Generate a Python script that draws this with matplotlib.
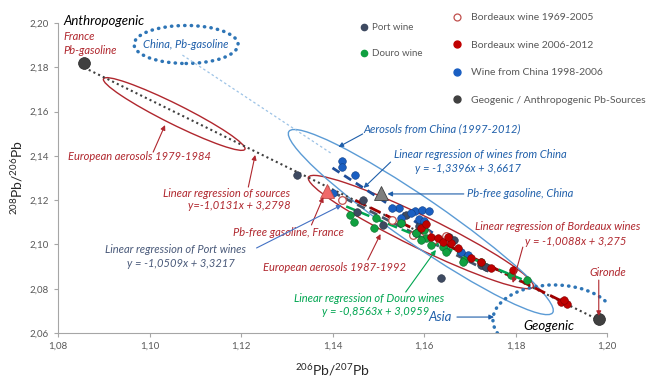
import matplotlib.pyplot as plt
import numpy as np
from matplotlib.patches import Ellipse
from matplotlib.transforms import ScaledTranslation
from matplotlib.ticker import FuncFormatter
from matplotlib.lines import Line2D

plt.rcParams['font.family'] = ['Lato', 'DejaVu Sans']
plt.rcParams['mathtext.fontset'] = 'custom'
plt.rcParams['mathtext.rm'] = 'Lato'
plt.rcParams['mathtext.it'] = 'Lato:italic'

# ---- data ----
port_x = [1.1323, 1.1466, 1.1453, 1.1510, 1.1560, 1.1588, 1.1582, 1.1599, 1.1654, 1.1665,
          1.1724, 1.1735, 1.1637]
port_y = [2.1314, 2.1201, 2.1146, 2.1088, 2.1133, 2.1083, 2.1052, 2.1101, 2.1034, 2.1020,
          2.0907, 2.0898, 2.0848]

douro_x = [1.1439, 1.1446, 1.1490, 1.1495, 1.1549, 1.1582, 1.1599, 1.1604, 1.1615, 1.1593,
           1.1641, 1.1647, 1.1687, 1.1685, 1.1724, 1.1790, 1.1825]
douro_y = [2.1133, 2.1101, 2.1074, 2.1119, 2.1097, 2.1052, 2.1065, 2.1029, 2.0997, 2.1020,
           2.0988, 2.0966, 2.0930, 2.0921, 2.0921, 2.0862, 2.0839]

bdx_old_x = [1.1531, 1.1549, 1.1577, 1.1604, 1.1619, 1.1647, 1.1420]
bdx_old_y = [2.1110, 2.1101, 2.1043, 2.1052, 2.1020, 2.1038, 2.1200]

bdx_new_x = [1.1615, 1.1630, 1.1641, 1.1658, 1.1652, 1.1674, 1.1702, 1.1724, 1.1746, 1.1794,
             1.1899, 1.1912, 1.1906, 1.1593, 1.1604]
bdx_new_y = [2.1034, 2.1029, 2.1011, 2.1006, 2.1034, 2.0984, 2.0939, 2.0921, 2.0894, 2.0885,
             2.0740, 2.0731, 2.0749, 2.1074, 2.1092]

china_x = [1.1420, 1.1420, 1.1450, 1.1402, 1.1549, 1.1545, 1.1580, 1.1595, 1.1610, 1.1588,
           1.1599, 1.1680, 1.1696, 1.1571, 1.1530]
china_y = [2.1377, 2.1350, 2.1313, 2.1232, 2.1119, 2.1164, 2.1150, 2.1155, 2.1150, 2.1115,
           2.1106, 2.0966, 2.0952, 2.1140, 2.1165]

src_x = [1.0857, 1.1982]
src_y = [2.1820, 2.0661]

gas_fr = (1.1387, 2.1241)
gas_cn = (1.1507, 2.1232)

# regressions: slope, intercept, x range
reg_src = (-1.0131, 3.2798, 1.0857, 1.1982)
reg_china = (-1.3396, 3.6617, 1.1400, 1.1660)
reg_port = (-1.0509, 3.3217, 1.1400, 1.1750)
reg_bdx = (-1.0088, 3.2750, 1.1450, 1.1900)
reg_douro = (-0.8563, 3.0959, 1.1430, 1.1830)
china_ext_x = [1.1072, 1.1396]
china_ext_y = [2.1855, 2.1413]

xticks = [1.08, 1.10, 1.12, 1.14, 1.16, 1.18, 1.20]
yticks = [2.06, 2.08, 2.10, 2.12, 2.14, 2.16, 2.18, 2.20]

RED = '#B0272E'
BLUE = '#1F5FAA'
SLATE = '#4A5A7A'
GREEN = '#00A550'

fig = plt.figure(figsize=(6.49, 3.78), dpi=100)
ax = fig.add_axes([58 / 649, 45 / 378, 549 / 649, 310 / 378])
ax.set_xlim(1.08, 1.20)
ax.set_ylim(2.06, 2.20)


def reg_line(r, **kw):
    xs = np.array([r[2], r[3]])
    ax.plot(xs, r[0] * xs + r[1], **kw)


def ring(cx, cy, w, h, ang, color, ls='-', lw=1.0):
    tr = fig.dpi_scale_trans + ScaledTranslation(cx, cy, ax.transData)
    e = Ellipse((0, 0), w / 100, h / 100, angle=ang, fill=False, ec=color,
                ls=ls, lw=lw, transform=tr, capstyle='round', zorder=2)
    ax.add_patch(e)


# ellipses
ring(1.1054, 2.1589, 158, 20, -26.5, RED, lw=1.0)
ring(1.1593, 2.1056, 250, 32, -26.0, RED, lw=1.0)
ring(1.1593, 2.1101, 320, 46, -34.5, '#5B9BD5', lw=1.0)
ring(1.1080, 2.1903, 104, 38, 0, '#2E75B6', ls=(0, (0.1, 1.8)), lw=2.5)
ring(1.1884, 2.0659, 122, 70, 0, '#2E75B6', ls=(0, (0.1, 1.8)), lw=2.5)

# regression lines
ax.plot(china_ext_x, china_ext_y, color='#9DC3E6', lw=0.9, ls=(0, (2, 2)), zorder=2)
reg_line(reg_src, color='#404040', lw=1.5, ls=(0, (1, 1.5)), zorder=3)
reg_line(reg_china, color='#1F4E99', lw=2.0, ls=(0, (3, 2)), zorder=3)
reg_line(reg_port, color='#44546A', lw=2.0, ls=(0, (3, 2)), zorder=3)
reg_line(reg_bdx, color='#A00000', lw=2.0, ls=(0, (4, 2)), zorder=3)
reg_line(reg_douro, color=GREEN, lw=1.8, ls=(0, (4, 2)), zorder=3)

# points
ms = 5.5
ax.plot(bdx_old_x, bdx_old_y, 'o', ms=ms, mfc='white', mec='#C0504D', mew=0.9, zorder=4)
ax.plot(port_x, port_y, 'o', ms=ms, color='#3E4A61', mec='#2A3344', mew=0.4, zorder=5)
ax.plot(china_x, china_y, 'o', ms=ms, color='#1A5FC2', mec='#0F3F85', mew=0.4, zorder=5)
ax.plot(douro_x, douro_y, 'o', ms=ms, color='#10A040', mec='#0A6A2A', mew=0.4, zorder=6)
ax.plot(bdx_new_x, bdx_new_y, 'o', ms=ms, color='#C00000', mec='#800000', mew=0.4, zorder=6)
ax.plot(src_x, src_y, 'o', ms=8.5, color='#404040', mec='#262626', mew=0.5, zorder=7)
ax.plot(*gas_fr, '^', ms=10, color='#F06A6A', mec='#C0504D', mew=0.6, zorder=7)
ax.plot(*gas_cn, '^', ms=10, color='#7F7F7F', mec='#404040', mew=0.6, zorder=7)

# texts
fs = 8
ax.text(1.0811, 2.2009, 'Anthropogenic', style='italic', fontsize=9.5, color='black', va='center')
ax.text(1.0813, 2.1941, 'France', style='italic', fontsize=fs, color=RED, va='center')
ax.text(1.0813, 2.1874, 'Pb-gasoline', style='italic', fontsize=fs, color=RED, va='center')
ax.text(1.1080, 2.1905, 'China, Pb-gasoline', style='italic', fontsize=fs, color=BLUE, va='center', ha='center')
ax.text(1.0822, 2.1395, 'European aerosols 1979-1984', style='italic', fontsize=fs, color=RED, va='center')
ax.text(1.1308, 2.1228, 'Linear regression of sources', style='italic', fontsize=fs, color=RED, va='center', ha='right')
ax.text(1.1308, 2.1178, 'y=-1,0131x + 3,2798', style='italic', fontsize=fs, color=RED, va='center', ha='right')
ax.text(1.1468, 2.1521, 'Aerosols from China (1997-2012)', style='italic', fontsize=fs, color=BLUE, va='center')
ax.text(1.1534, 2.1404, 'Linear regression of wines from China', style='italic', fontsize=fs, color=BLUE, va='center')
ax.text(1.1580, 2.1345, 'y = -1,3396x + 3,6617', style='italic', fontsize=fs, color=BLUE, va='center')
ax.text(1.1693, 2.1228, 'Pb-free gasoline, China', style='italic', fontsize=fs, color=BLUE, va='center')
ax.text(1.1711, 2.1083, 'Linear regression of Bordeaux wines', style='italic', fontsize=fs, color=RED, va='center')
ax.text(1.1820, 2.1015, 'y = -1,0088x + 3,275', style='italic', fontsize=fs, color=RED, va='center')
ax.text(1.1961, 2.0875, 'Gironde', style='italic', fontsize=fs, color=RED, va='center')
ax.text(1.1183, 2.1056, 'Pb-free gasoline, France', style='italic', fontsize=fs, color=RED, va='center')
ax.text(1.1249, 2.0898, 'European aerosols 1987-1992', style='italic', fontsize=fs, color=RED, va='center')
ax.text(1.0903, 2.0975, 'Linear regression of Port wines', style='italic', fontsize=fs, color=SLATE, va='center')
ax.text(1.0951, 2.0916, 'y = -1,0509x + 3,3217', style='italic', fontsize=fs, color=SLATE, va='center')
ax.text(1.1315, 2.0758, 'Linear regression of Douro wines', style='italic', fontsize=fs, color=GREEN, va='center')
ax.text(1.1378, 2.0695, 'y = -0,8563x + 3,0959', style='italic', fontsize=fs, color=GREEN, va='center')
ax.text(1.1610, 2.0672, 'Asia', style='italic', fontsize=9.5, color=BLUE, va='center')
ax.text(1.1818, 2.0632, 'Geogenic', style='italic', fontsize=9.5, color='black', va='center')


def arrow(x0, y0, x1, y1, color, lw=0.8):
    ax.annotate('', xy=(x1, y1), xytext=(x0, y0),
                arrowprops=dict(arrowstyle='-|>', color=color, lw=lw, mutation_scale=7,
                                shrinkA=0, shrinkB=0), zorder=8)


arrow(1.1008, 2.1417, 1.1034, 2.1539, RED)
arrow(1.1216, 2.1259, 1.1231, 2.1404, RED)
arrow(1.1466, 2.1499, 1.1413, 2.1440, BLUE)
arrow(1.1527, 2.1372, 1.1468, 2.1255, BLUE)
arrow(1.1687, 2.1228, 1.1520, 2.1228, BLUE)
arrow(1.1816, 2.0988, 1.1794, 2.0826, RED)
arrow(1.1982, 2.0839, 1.1982, 2.0677, RED)
arrow(1.1354, 2.1088, 1.1380, 2.1214, RED)
arrow(1.1477, 2.0930, 1.1505, 2.1047, RED)
arrow(1.1234, 2.0984, 1.1420, 2.1178, '#4472C4')
arrow(1.1560, 2.0785, 1.1626, 2.0975, GREEN)
arrow(1.1672, 2.0672, 1.1753, 2.0672, BLUE)

# axes style
for s in ['top', 'right']:
    ax.spines[s].set_visible(False)
for s in ['left', 'bottom']:
    ax.spines[s].set_color('#A6A6A6')
ax.set_xticks(xticks)
ax.set_yticks(yticks)
fmt = FuncFormatter(lambda v, p: f'{v:.2f}'.replace('.', ','))
ax.xaxis.set_major_formatter(fmt)
ax.yaxis.set_major_formatter(fmt)
ax.tick_params(labelsize=7, colors='#595959', length=3, width=0.8)
ax.tick_params(color='#A6A6A6')
ax.set_xlabel(r'$^{206}$Pb/$^{207}$Pb', fontsize=10, color='#262626', labelpad=8)
ax.set_ylabel(r'$^{208}$Pb/$^{206}$Pb', fontsize=10, color='#262626', labelpad=3)

# legends
h1 = [Line2D([], [], ls='', marker='o', ms=4.5, color='#3E4A61'),
      Line2D([], [], ls='', marker='o', ms=4.5, color='#10A040')]
leg1 = fig.legend(h1, ['Port wine', 'Douro wine'], loc='upper left',
                  bbox_to_anchor=(360 / 649, 1 - 23 / 378), frameon=False, fontsize=7,
                  handlelength=0.8, handletextpad=0.4, labelspacing=1.75, borderpad=0,
                  borderaxespad=0, labelcolor='#595959')
h2 = [Line2D([], [], ls='', marker='o', ms=5, mfc='white', mec='#C0504D', mew=0.9),
      Line2D([], [], ls='', marker='o', ms=5, color='#C00000'),
      Line2D([], [], ls='', marker='o', ms=5, color='#1A5FC2'),
      Line2D([], [], ls='', marker='o', ms=5, color='#404040')]
leg2 = fig.legend(h2, ['Bordeaux wine 1969-2005', 'Bordeaux wine 2006-2012',
                       'Wine from China 1998-2006', 'Geogenic / Anthropogenic Pb-Sources'],
                  loc='upper left', bbox_to_anchor=(452 / 649, 1 - 13 / 378), frameon=False,
                  fontsize=7.5, handlelength=1.0, handletextpad=0.8, labelspacing=1.75,
                  borderpad=0, borderaxespad=0, labelcolor='#595959')

fig.savefig('out.png', dpi=100)
